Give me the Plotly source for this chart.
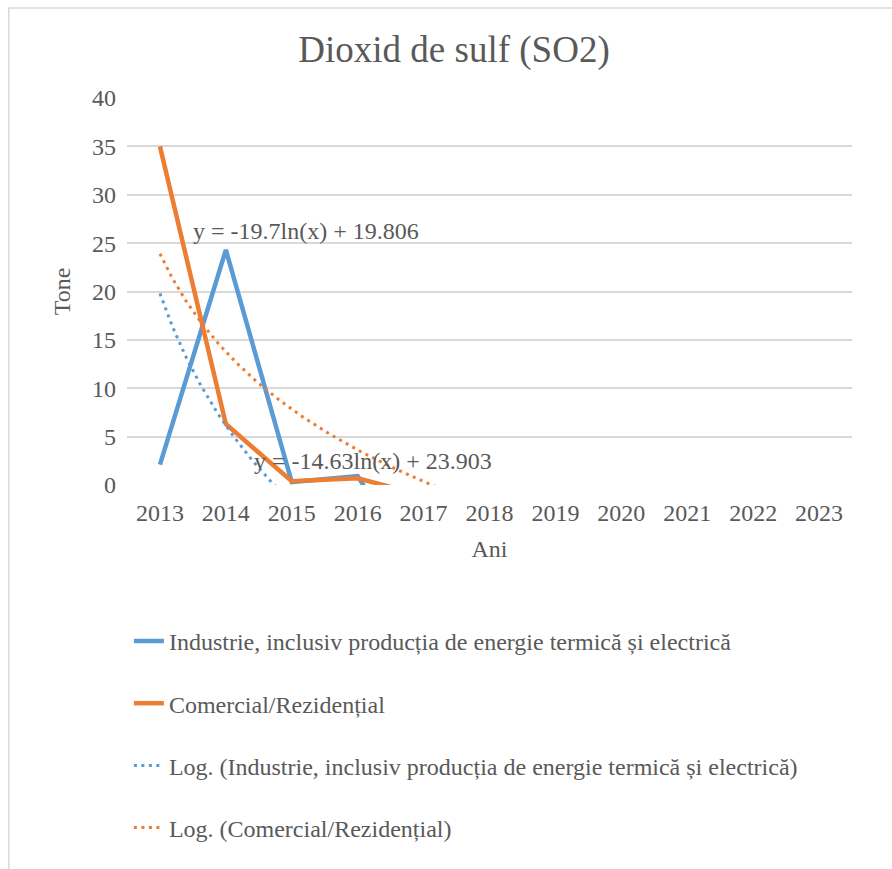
import numpy as np
import plotly.graph_objects as go

# Emisii anuale de dioxid de sulf (tone)
years = [2013, 2014, 2015, 2016, 2017, 2018, 2019, 2020, 2021, 2022, 2023]
industrie = [2.1, 24.3, 0.3, 0.93, -10.0, None, None, None, None, None, None]
comercial = [35.0, 6.3, 0.4, 0.69, -1.1, None, None, None, None, None, None]

name_ind = "Industrie, inclusiv producția de energie termică și electrică"
name_com = "Comercial/Rezidențial"

# Coeficienții tendințelor logaritmice: y = a*ln(x) + b, x = 1..n
trend_ind = (-19.7, 19.806)
trend_com = (-14.63, 23.903)

BLUE = "#5B9BD5"
ORANGE = "#ED7D31"
TEXT = "#595959"
GRID = "#D9D9D9"
FONT = "Liberation Serif"

t = np.linspace(1, len(years), 400)
x_trend = years[0] - 1 + t


def trend(coef):
    a, b = coef
    return a * np.log(t) + b


fig = go.Figure()
fig.add_trace(go.Scatter(x=years, y=industrie, mode="lines", name=name_ind,
                         line=dict(color=BLUE, width=4.5), legendgroup="a"))
fig.add_trace(go.Scatter(x=years, y=comercial, mode="lines", name=name_com,
                         line=dict(color=ORANGE, width=4.5), legendgroup="b"))
fig.add_trace(go.Scatter(x=x_trend, y=trend(trend_ind), mode="lines",
                         name="Log. (" + name_ind + ")",
                         line=dict(color=BLUE, width=3, dash="3px,4.5px"),
                         legendgroup="c"))
fig.add_trace(go.Scatter(x=x_trend, y=trend(trend_com), mode="lines",
                         name="Log. (" + name_com + ")",
                         line=dict(color=ORANGE, width=3, dash="3px,4.5px"),
                         legendgroup="d"))

# Ecuațiile tendințelor
fig.add_annotation(x=2015.22, y=26.25, xref="x", yref="y",
                   text="y = %.1fln(x) + %.3f" % trend_ind, showarrow=False,
                   font=dict(family=FONT, size=24, color=TEXT))
fig.add_annotation(x=2016.23, y=2.48, xref="x", yref="y",
                   text="y = %.2fln(x) + %.3f" % trend_com, showarrow=False,
                   font=dict(family=FONT, size=24, color=TEXT))

# Chenarul diagramei
fig.add_shape(type="rect", xref="paper", yref="paper",
              x0=-0.163, x1=1.1, y0=-1.1, y1=1.2326,
              line=dict(color=GRID, width=1.5), fillcolor="rgba(0,0,0,0)",
              layer="below")

fig.update_layout(
    width=892, height=869,
    margin=dict(l=127, r=40, t=98, b=384, autoexpand=False),
    paper_bgcolor="white", plot_bgcolor="white",
    font=dict(family=FONT, size=24, color=TEXT),
    title=dict(text="Dioxid de sulf (SO2)", x=0.509, xanchor="center",
               y=0.943, yanchor="middle",
               font=dict(family=FONT, size=37, color=TEXT)),
    showlegend=True,
    legend=dict(orientation="v", x=0.0026, xanchor="left",
                y=-0.346, yanchor="top", tracegroupgap=28,
                font=dict(family=FONT, size=24, color=TEXT),
                bgcolor="rgba(0,0,0,0)"),
    xaxis=dict(range=[2012.5, 2023.5], tickmode="array", tickvals=years,
               ticktext=[str(y) for y in years], showgrid=False,
               zeroline=False, showline=False, ticks="",
               ticklabelstandoff=11,
               title=dict(text="Ani", standoff=15,
                          font=dict(family=FONT, size=24, color=TEXT))),
    yaxis=dict(range=[0, 40], dtick=5, showgrid=True, gridcolor=GRID,
               gridwidth=1.5, zeroline=False, showline=False, ticks="",
               ticklabelstandoff=10,
               title=dict(text="Tone", standoff=14,
                          font=dict(family=FONT, size=24, color=TEXT))),
)

fig.write_html("out.html")
